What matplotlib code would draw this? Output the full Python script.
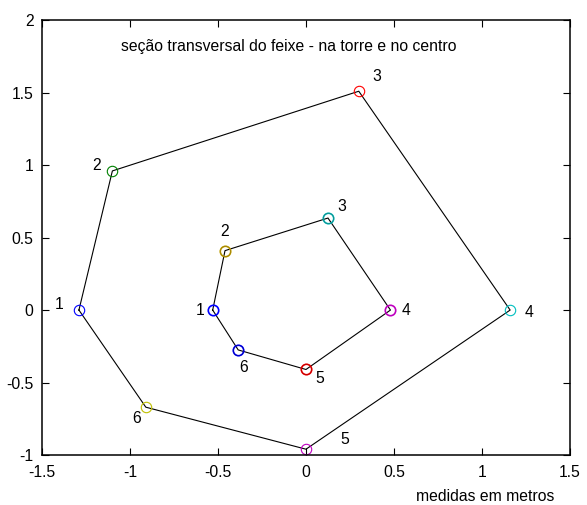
import matplotlib.pyplot as plt
import numpy as np

plt.rcParams["font.family"] = ["Liberation Sans", "DejaVu Sans"]
plt.rcParams["font.size"] = 11.3

# outer section (na torre)
outer_x = [-1.29, -1.10, 0.30, 1.16, 0.0, -0.91]
outer_y = [0.0, 0.96, 1.51, 0.0, -0.96, -0.67]
outer_colors = ["blue", "green", "red", "c", "m", "y"]

# inner section (no centro)
inner_x = [-0.53, -0.46, 0.125, 0.48, 0.0, -0.385]
inner_y = [0.0, 0.41, 0.635, 0.0, -0.41, -0.275]
inner_colors = ["blue", "#c8a800", "c", "m", "red", "blue"]
inner_overlay = [None, "#806010", "#1f5f5f", None, "#800000", "#000080"]

labels = ["1", "2", "3", "4", "5", "6"]
outer_lbl_dx = [-0.11, -0.09, 0.10, 0.11, 0.22, -0.05]
outer_lbl_dy = [0.04, 0.04, 0.10, -0.02, 0.07, -0.08]
inner_lbl_dx = [-0.07, 0.0, 0.08, 0.09, 0.08, 0.03]
inner_lbl_dy = [0.0, 0.13, 0.08, 0.0, -0.06, -0.12]

fig = plt.figure(figsize=(5.87, 5.05), dpi=100)
ax = fig.add_axes([0.0715, 0.099, 0.8995, 0.861])

for xs, ys in [(outer_x, outer_y), (inner_x, inner_y)]:
    ax.plot(xs + xs[:1], ys + ys[:1], color="k", lw=0.8)

for i in range(6):
    ax.plot(outer_x[i], outer_y[i], "o", mfc="none", mec=outer_colors[i], ms=7.5, mew=0.8)
    ax.plot(inner_x[i], inner_y[i], "o", mfc="none", mec=inner_colors[i], ms=7.5, mew=1.2)
    if inner_overlay[i]:
        ax.plot(inner_x[i], inner_y[i], "o", mfc="none", mec=inner_overlay[i],
                ms=7.5, mew=0.7, ls="none", alpha=0.5)
    ax.text(outer_x[i] + outer_lbl_dx[i], outer_y[i] + outer_lbl_dy[i], labels[i],
            ha="center", va="center")
    ax.text(inner_x[i] + inner_lbl_dx[i], inner_y[i] + inner_lbl_dy[i], labels[i],
            ha="center", va="center")

ax.text(-0.1, 1.82, "seção transversal do feixe - na torre e no centro",
        ha="center", va="center")
fig.text(0.826, 0.016, "medidas em metros", ha="center", va="center")

ax.set_xlim(-1.5, 1.5)
ax.set_ylim(-1, 2)
ax.set_xticks(np.arange(-1.5, 1.51, 0.5))
ax.set_yticks(np.arange(-1, 2.01, 0.5))
ax.set_xticklabels(["-1.5", "-1", "-0.5", "0", "0.5", "1", "1.5"])
ax.set_yticklabels(["-1", "-0.5", "0", "0.5", "1", "1.5", "2"])
ax.tick_params(direction="in", top=True, right=True, length=5, width=0.8)
ax.tick_params(axis="x", pad=7)
ax.tick_params(axis="y", pad=6)
for s in ax.spines.values():
    s.set_linewidth(1.1)

fig.savefig("out.png", dpi=100)
